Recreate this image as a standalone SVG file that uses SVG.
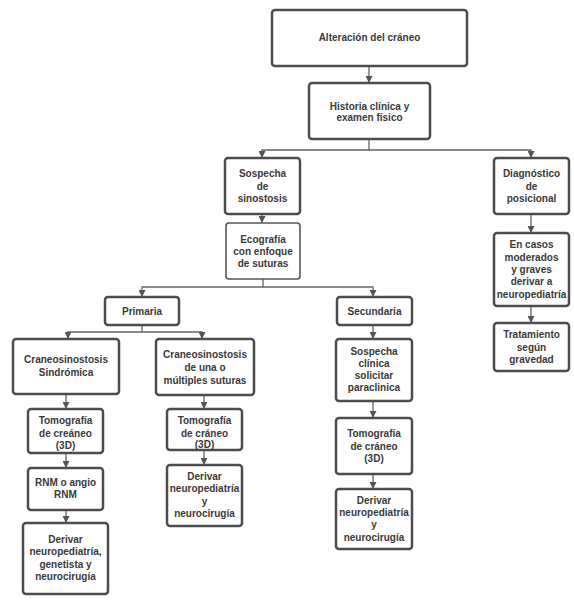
<svg xmlns="http://www.w3.org/2000/svg" width="574" height="614" viewBox="0 0 574 614">
<defs>
<marker id="ah" viewBox="0 0 8 8" refX="8" refY="4" markerWidth="7" markerHeight="7" markerUnits="userSpaceOnUse" orient="auto">
<path d="M0,0 L8,4 L0,8 z" fill="#555"/>
</marker>
<style>
rect.n{fill:#fff;stroke:#4d4d4d;stroke-width:2.5}
rect.t{fill:#fff;stroke:#555;stroke-width:1.6}
text{font-family:"Liberation Sans",Arial,sans-serif;font-weight:bold;font-size:10px;fill:#3a3a3a;text-anchor:middle}
.c path{fill:none;stroke:#666;stroke-width:1.3}
</style>
</defs>
<rect width="574" height="614" fill="#fff"/>
<g class="c" id="connectors">
<path d="M369,66 V83" marker-end="url(#ah)"/>
<path d="M369,139 V150 H262 V158" marker-end="url(#ah)"/>
<path d="M369,150 H531 V158" marker-end="url(#ah)"/>
<path d="M262,214 V223" marker-end="url(#ah)"/>
<path d="M263,279 V287 H142 V297" marker-end="url(#ah)"/>
<path d="M263,287 H373 V297" marker-end="url(#ah)"/>
<path d="M142,325 V332 H68 V339" marker-end="url(#ah)"/>
<path d="M142,332 H202 V339" marker-end="url(#ah)"/>
<path d="M373,325 V339" marker-end="url(#ah)"/>
<path d="M66,394 V409" marker-end="url(#ah)"/>
<path d="M66,453 V468" marker-end="url(#ah)"/>
<path d="M66,510 V523" marker-end="url(#ah)"/>
<path d="M204,395 V409" marker-end="url(#ah)"/>
<path d="M204,450 V465" marker-end="url(#ah)"/>
<path d="M373,401 V418" marker-end="url(#ah)"/>
<path d="M373,474 V489" marker-end="url(#ah)"/>
<path d="M531,214 V233" marker-end="url(#ah)"/>
<path d="M531,306 V323" marker-end="url(#ah)"/>
</g>
<g id="n1"><rect class="n" x="272" y="10" width="195" height="56" rx="3" stroke-width="3"/><text x="369.5" y="41">Alteración del cráneo</text></g>
<g id="n2"><rect class="n" x="309" y="83" width="121" height="56" rx="3"/><text x="369.5" y="110">Historia clínica y</text><text x="369.5" y="121">examen físico</text></g>
<g id="n3"><rect class="n" x="225" y="158" width="75" height="56" rx="3"/><text x="262.5" y="176.5">Sospecha</text><text x="262.5" y="189.5">de</text><text x="262.5" y="201.5">sinostosis</text></g>
<g id="n4"><rect class="n" x="494" y="158" width="75" height="56" rx="3"/><text x="531.5" y="176.5">Diagnóstico</text><text x="531.5" y="189.5">de</text><text x="531.5" y="201.5">posicional</text></g>
<g id="n5"><rect class="t" x="226" y="223" width="74" height="56" rx="3"/><text x="263" y="242.5">Ecografía</text><text x="263" y="254.5">con enfoque</text><text x="263" y="266.5">de suturas</text></g>
<g id="n6"><rect class="n" x="494" y="233" width="75" height="73" rx="3"/><text x="531.5" y="247.5">En casos</text><text x="531.5" y="260.5">moderados</text><text x="531.5" y="272.5">y graves</text><text x="531.5" y="284.5">derivar a</text><text x="531.5" y="297.5">neuropediatría</text></g>
<g id="n7"><rect class="n" x="494" y="323" width="75" height="48" rx="3"/><text x="531.5" y="337.5">Tratamiento</text><text x="531.5" y="350.5">según</text><text x="531.5" y="362.5">gravedad</text></g>
<g id="n8"><rect class="n" x="105" y="297" width="74" height="28" rx="3"/><text x="142" y="314.5">Primaria</text></g>
<g id="n9"><rect class="n" x="337" y="297" width="75" height="28" rx="3"/><text x="374.5" y="314.5">Secundaria</text></g>
<g id="n10"><rect class="n" x="13" y="339" width="106" height="55" rx="3"/><text x="66" y="362.5">Craneosinostosis</text><text x="66" y="375.5">Sindrómica</text></g>
<g id="n11"><rect class="n" x="156" y="339" width="98" height="56" rx="3"/><text x="205" y="357.5">Craneosinostosis</text><text x="205" y="370.5">de una o</text><text x="205" y="383.5">múltiples suturas</text></g>
<g id="n12"><rect class="n" x="336" y="339" width="76" height="62" rx="3"/><text x="374" y="354.5">Sospecha</text><text x="374" y="366.5">clínica</text><text x="374" y="378.5">solicitar</text><text x="374" y="390.5">paraclinica</text></g>
<g id="n13"><rect class="n" x="28" y="409" width="75" height="44" rx="3"/><text x="65.5" y="423.5">Tomografía</text><text x="65.5" y="436.5">de creáneo</text><text x="65.5" y="448.5">(3D)</text></g>
<g id="n14"><rect class="n" x="167" y="409" width="75" height="41" rx="3"/><text x="204.5" y="423.5">Tomografía</text><text x="204.5" y="436.5">de cráneo</text><text x="204.5" y="447.5">(3D)</text></g>
<g id="n15"><rect class="n" x="336" y="418" width="76" height="56" rx="3"/><text x="374" y="436.5">Tomografía</text><text x="374" y="449.5">de cráneo</text><text x="374" y="461.5">(3D)</text></g>
<g id="n16"><rect class="n" x="28" y="468" width="75" height="42" rx="3"/><text x="65.5" y="485.5">RNM o angio</text><text x="65.5" y="497.5">RNM</text></g>
<g id="n17"><rect class="n" x="167" y="465" width="75" height="61" rx="3"/><text x="204.5" y="479.5">Derivar</text><text x="204.5" y="491.5">neuropediatría</text><text x="204.5" y="504.5">y</text><text x="204.5" y="516.5">neurocirugía</text></g>
<g id="n18"><rect class="n" x="336" y="489" width="76" height="60" rx="3"/><text x="374" y="503.5">Derivar</text><text x="374" y="515.5">neuropediatría</text><text x="374" y="527.5">y</text><text x="374" y="540.5">neurocirugía</text></g>
<g id="n19"><rect class="n" x="23" y="523" width="85" height="71" rx="3"/><text x="65.5" y="542.5">Derivar</text><text x="65.5" y="554.5">neuropediatría,</text><text x="65.5" y="567.5">genetista y</text><text x="65.5" y="579.5">neurocirugía</text></g>
</svg>
